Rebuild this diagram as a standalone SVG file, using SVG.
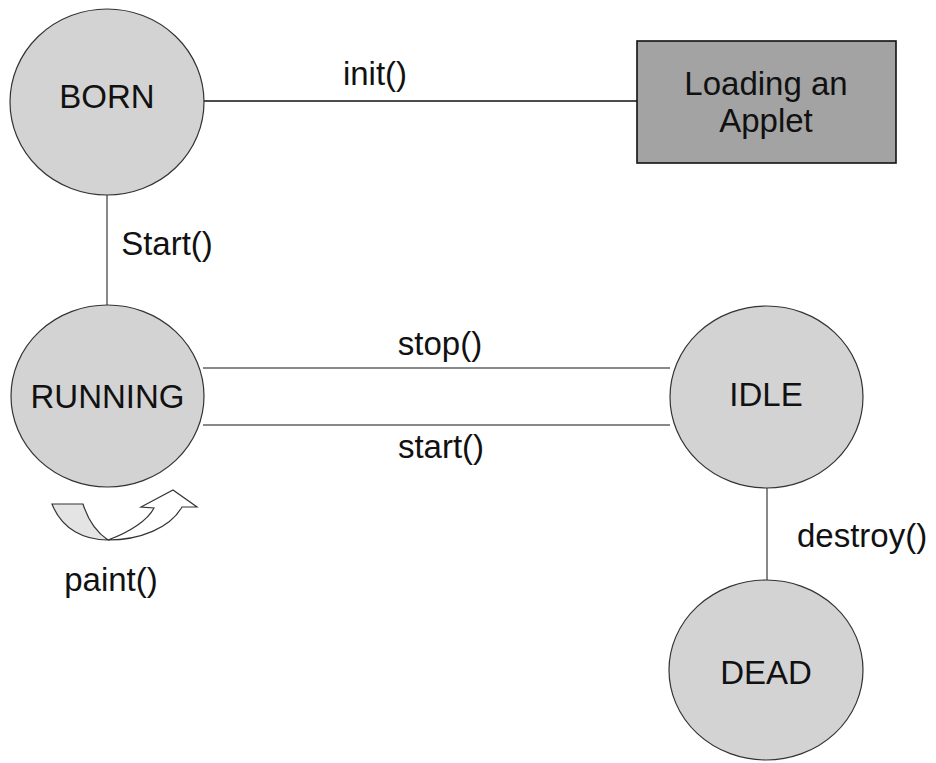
<svg xmlns="http://www.w3.org/2000/svg" width="936" height="763" viewBox="0 0 936 763">
<style>
.state{fill:#d3d3d3;stroke:#333;stroke-width:1.2}
.box{fill:#a3a3a3;stroke:#111;stroke-width:1.6}
text{font-family:"Liberation Sans",Arial,sans-serif;font-size:33px;fill:#111}
.c{text-anchor:middle}
.conn{stroke:#888;stroke-width:2;fill:none}
.dark{stroke:#111;stroke-width:1.6}
</style>
<rect width="936" height="763" fill="#fff"/>
<g id="connectors">
<line class="conn dark" x1="204" y1="101" x2="637" y2="101"/>
<line class="conn" x1="107" y1="195" x2="107" y2="305"/>
<line class="conn" x1="203" y1="368" x2="670" y2="368"/>
<line class="conn" x1="203" y1="425" x2="670" y2="425"/>
<line class="conn" x1="767" y1="488" x2="767" y2="580"/>
<text class="c" x="375" y="85">init()</text>
<text class="c" x="167" y="255">Start()</text>
<text class="c" x="440" y="355">stop()</text>
<text class="c" x="441" y="458">start()</text>
<text x="797" y="547">destroy()</text>
</g>
<g id="born">
<ellipse class="state" cx="107" cy="102" rx="97" ry="93"/>
<text class="c" x="107" y="108">BORN</text>
</g>
<g id="loading">
<rect class="box" x="637" y="41" width="259" height="122"/>
<text class="c" x="766" y="95">Loading an</text>
<text class="c" x="766" y="132">Applet</text>
</g>
<g id="running">
<ellipse class="state" cx="107.5" cy="396" rx="96.5" ry="91"/>
<text class="c" x="107.5" y="408">RUNNING</text>
</g>
<g id="idle">
<ellipse class="state" cx="766.5" cy="397" rx="96.5" ry="91"/>
<text class="c" x="766" y="406">IDLE</text>
</g>
<g id="dead">
<ellipse class="state" cx="766" cy="670" rx="97" ry="90"/>
<text class="c" x="766" y="684">DEAD</text>
</g>
<g id="paint">
<path d="M52,504 L83,504 C88,520 96,532 108,540 C85,540 62,530 52,504 Z" fill="#e4e4e4" stroke="#333" stroke-width="1.2"/>
<path d="M108,540 C130,532 148,520 154,508 L141,507 L173,490 L197,507 L182,507 C170,528 140,540 108,540 Z" fill="#fff" stroke="#333" stroke-width="1.2"/>
<text class="c" x="111" y="591">paint()</text>
</g>
</svg>
